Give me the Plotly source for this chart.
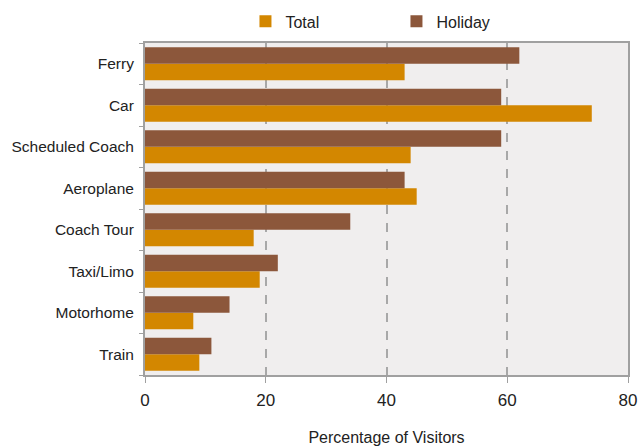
import plotly.graph_objects as go

categories = ["Train", "Motorhome", "Taxi/Limo", "Coach Tour", "Aeroplane",
              "Scheduled Coach", "Car", "Ferry"]
total = [9, 8, 19, 18, 45, 44, 74, 43]
holiday = [11, 14, 22, 34, 43, 59, 59, 62]
x_ticks = [0, 20, 40, 60, 80]

FONT = "Liberation Sans, Arial, sans-serif"

fig = go.Figure()
fig.add_trace(go.Bar(y=categories, x=total, name="Total", orientation="h",
                     marker=dict(color="#D38700", line=dict(width=0))))
fig.add_trace(go.Bar(y=categories, x=holiday, name="Holiday", orientation="h",
                     marker=dict(color="#8C573B", line=dict(width=0))))

fig.update_layout(
    width=640, height=447,
    margin=dict(l=145, r=12, t=43, b=72),
    barmode="group", bargap=0.2, bargroupgap=0,
    paper_bgcolor="white", plot_bgcolor="#F0EEEE",
    font=dict(family=FONT, color="#222222", size=15),
    showlegend=True,
    legend=dict(orientation="h", x=0.208, y=0.99, xanchor="left", yanchor="top",
                yref="container",
                entrywidth=106, entrywidthmode="pixels",
                font=dict(size=16, family=FONT), traceorder="normal",
                bgcolor="rgba(0,0,0,0)"),
)
fig.update_xaxes(range=[0, 80], tickvals=x_ticks, ticks="outside", ticklen=6,
                 tickcolor="#A0A0A0", showline=True, linecolor="#A0A0A0", linewidth=2,
                 mirror=True, showgrid=True, gridcolor="#A8A8A8", griddash="dash",
                 gridwidth=1.5, zeroline=False, tickfont=dict(size=17), automargin=False,
                 ticklabelstandoff=3,
                 title=dict(text="Percentage of Visitors", font=dict(size=16), standoff=22))
fig.update_yaxes(categoryorder="array", categoryarray=categories, ticks="outside",
                 tickson="boundaries", ticklen=4, tickcolor="#A0A0A0", showline=True,
                 linecolor="#A0A0A0", linewidth=2, mirror=True, showgrid=False,
                 tickfont=dict(size=15.5), ticklabelstandoff=6, automargin=False)

fig.write_html("out.html")
